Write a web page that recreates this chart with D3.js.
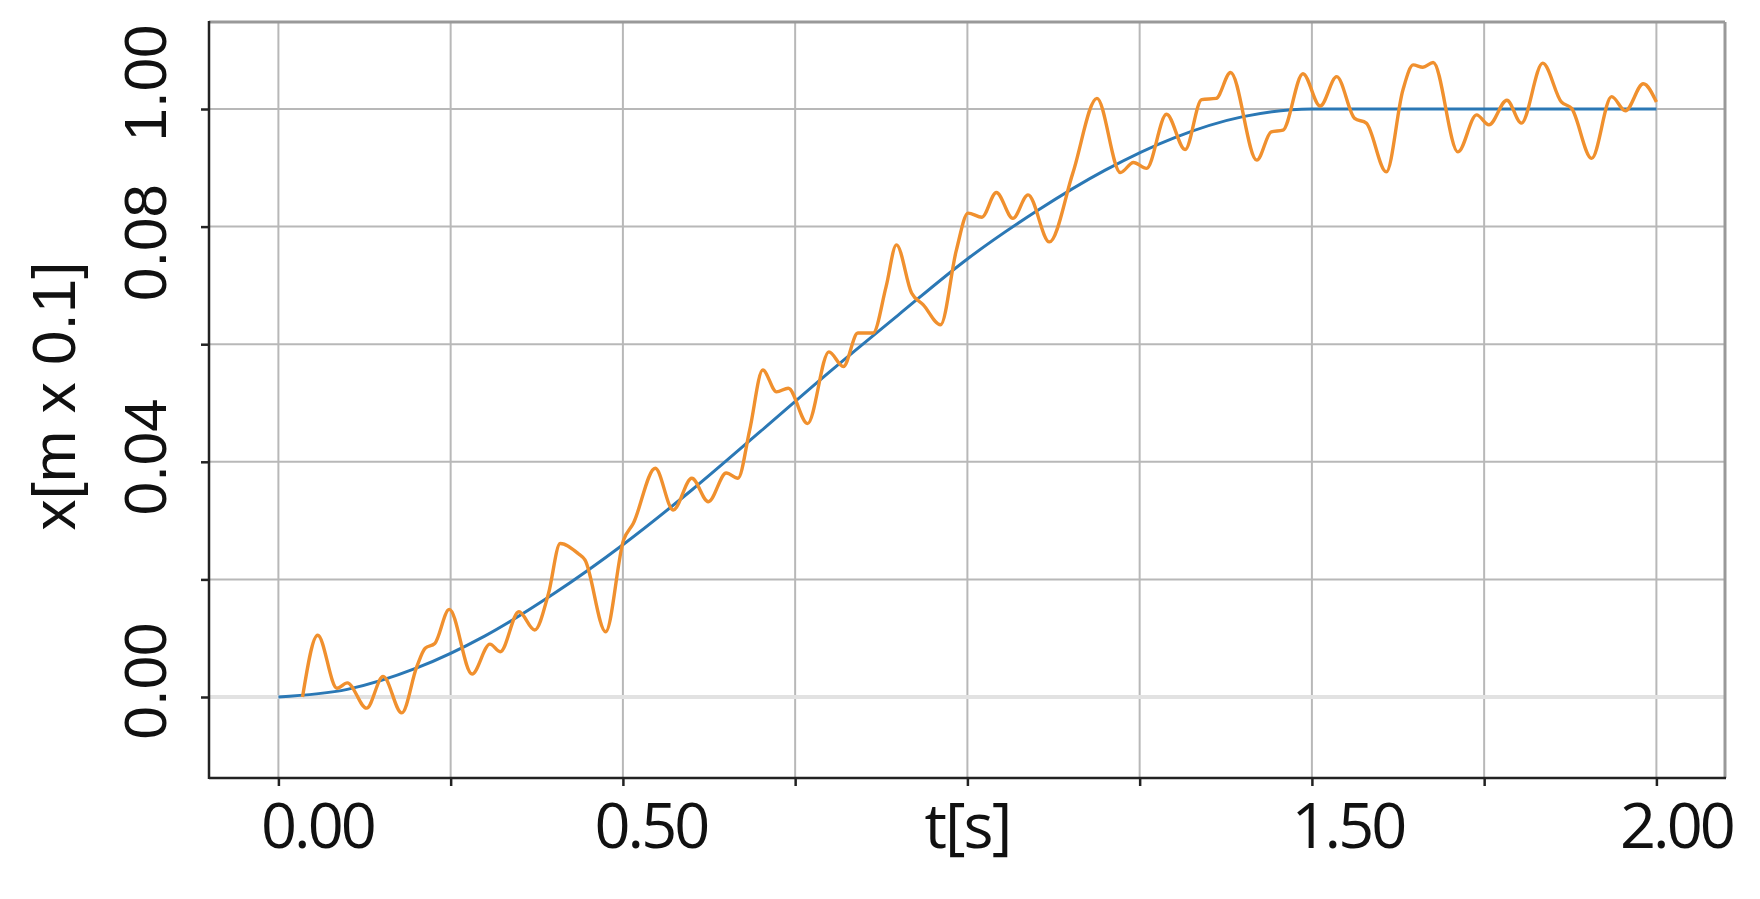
<!DOCTYPE html>
<meta charset="utf-8">
<script src="https://d3js.org/d3.v7.min.js"></script>
<style>
  body { margin: 0; background: #fff; }
</style>
<div id="chart"></div>
<script>
// time axis (s)
var tGrid = [0, 0.25, 0.5, 0.75, 1, 1.25, 1.5, 1.75, 2];
var tLabelValues = [0, 0.5, 1.5, 2];
var tLabels = ["0.00", "0.50", "1.50", "2.00"];
var tTitle = "t[s]";

// position axis (m x 0.1)
var xGrid = [0, 0.02, 0.04, 0.06, 0.08, 0.1];
var xLabelValues = [0, 0.04, 0.08, 0.1];
var xLabels = ["0.00", "0.04", "0.08", "1.00"];
var xTitle = "x[m x 0.1]";

// reference trajectory (blue)
var refT = [0, 0.1, 0.2, 0.3, 0.4, 0.5, 0.6, 0.7, 0.8, 0.9, 1.0, 1.1, 1.2, 1.3, 1.4, 1.5, 1.75, 2.0];
var refX = [0, 0.0013, 0.0049, 0.0104, 0.0176, 0.0259, 0.0352, 0.0452, 0.0553, 0.0650, 0.0745, 0.0826, 0.0896, 0.0951, 0.0987, 0.1, 0.1, 0.1];

// measured trajectory (orange)
var measT = [0.035, 0.057, 0.085, 0.100, 0.128, 0.152, 0.179, 0.201, 0.213, 0.227, 0.248,
  0.281, 0.307, 0.322, 0.349, 0.372, 0.392, 0.409, 0.435, 0.445, 0.475, 0.501, 0.515,
  0.547, 0.573, 0.600, 0.624, 0.650, 0.667, 0.684, 0.703, 0.723, 0.740, 0.768, 0.799,
  0.820, 0.841, 0.863, 0.882, 0.897, 0.919, 0.936, 0.961, 0.984, 1.001, 1.021, 1.042,
  1.066, 1.088, 1.119, 1.153, 1.188, 1.222, 1.241, 1.260, 1.289, 1.316, 1.340, 1.361,
  1.382, 1.420, 1.441, 1.458, 1.487, 1.512, 1.536, 1.562, 1.579, 1.608, 1.632, 1.647,
  1.661, 1.676, 1.712, 1.739, 1.757, 1.783, 1.804, 1.835, 1.862, 1.877, 1.906, 1.935,
  1.955, 1.981, 2.000];
var measX = [0.0000, 0.0105, 0.0015, 0.0024, -0.0019, 0.0035, -0.0027, 0.0052, 0.0083, 0.0091, 0.0149,
  0.0039, 0.0090, 0.0077, 0.0145, 0.0114, 0.0176, 0.0261, 0.0244, 0.0233, 0.0111, 0.0267, 0.0295,
  0.0389, 0.0318, 0.0372, 0.0332, 0.0381, 0.0372, 0.0454, 0.0556, 0.0519, 0.0525, 0.0465, 0.0587,
  0.0562, 0.0619, 0.0619, 0.0698, 0.0769, 0.0687, 0.0667, 0.0633, 0.0760, 0.0823, 0.0816, 0.0858,
  0.0814, 0.0854, 0.0774, 0.0891, 0.1018, 0.0892, 0.0909, 0.0899, 0.0991, 0.0931, 0.1016, 0.1018,
  0.1062, 0.0913, 0.0961, 0.0964, 0.1060, 0.1005, 0.1055, 0.0984, 0.0976, 0.0893, 0.1032, 0.1075,
  0.1071, 0.1079, 0.0927, 0.0990, 0.0973, 0.1015, 0.0976, 0.1078, 0.1012, 0.1001, 0.0916, 0.1021,
  0.0997, 0.1043, 0.1012];

var width = 1760, height = 899;
var frame = {left: 209, right: 1725, top: 22, bottom: 778};

var svg = d3.select("#chart").append("svg")
  .attr("width", width)
  .attr("height", height);

var x = d3.scaleLinear().domain([0, 2]).range([278.4, 1656.4]);
var y = d3.scaleLinear().domain([0, 0.1]).range([697, 109]);

// vertical grid
svg.append("g").selectAll("line")
  .data(tGrid).enter().append("line")
  .attr("x1", d => x(d)).attr("x2", d => x(d))
  .attr("y1", frame.top).attr("y2", frame.bottom)
  .attr("stroke", "#b8b8b8").attr("stroke-width", 2);

// horizontal grid, zero line is lighter and wider
svg.append("g").selectAll("line")
  .data(xGrid).enter().append("line")
  .attr("x1", frame.left).attr("x2", frame.right)
  .attr("y1", d => y(d)).attr("y2", d => y(d))
  .attr("stroke", d => d === 0 ? "#e2e2e2" : "#b8b8b8")
  .attr("stroke-width", d => d === 0 ? 4 : 2);

// frame: top and right gray, left and bottom dark
svg.append("line").attr("x1", frame.left).attr("x2", frame.right)
  .attr("y1", frame.top).attr("y2", frame.top)
  .attr("stroke", "#999").attr("stroke-width", 3);
svg.append("line").attr("x1", frame.right).attr("x2", frame.right)
  .attr("y1", frame.top).attr("y2", frame.bottom)
  .attr("stroke", "#999").attr("stroke-width", 3);

// axes give the small ticks
var yAxis = svg.append("g")
  .attr("transform", "translate(" + frame.left + ",0)")
  .call(d3.axisLeft(y).tickValues(xGrid).tickSize(8).tickSizeOuter(0).tickFormat(""));
var xAxis = svg.append("g")
  .attr("transform", "translate(0," + frame.bottom + ")")
  .call(d3.axisBottom(x).tickValues(tGrid).tickSize(8).tickSizeOuter(0).tickFormat(""));
[yAxis, xAxis].forEach(function(a) {
  a.select(".domain").remove();
  a.selectAll(".tick line").attr("stroke", "#222").attr("stroke-width", 2.5);
});
svg.append("line").attr("x1", frame.left).attr("x2", frame.left)
  .attr("y1", frame.top - 1).attr("y2", frame.bottom + 1)
  .attr("stroke", "#222").attr("stroke-width", 2.5);
svg.append("line").attr("x1", frame.left).attr("x2", frame.right + 1)
  .attr("y1", frame.bottom).attr("y2", frame.bottom)
  .attr("stroke", "#222").attr("stroke-width", 2.5);

// curves
var ref = refT.map((t, i) => [t, refX[i]]);
var meas = measT.map((t, i) => [t, measX[i]]);
var line = d3.line().x(d => x(d[0])).y(d => y(d[1])).curve(d3.curveMonotoneX);

svg.append("path").datum(ref)
  .attr("d", line).attr("fill", "none")
  .attr("stroke", "#2b78b5").attr("stroke-width", 3);
svg.append("path").datum(meas)
  .attr("d", line).attr("fill", "none")
  .attr("stroke", "#f0902e").attr("stroke-width", 3.4)
  .attr("stroke-linejoin", "round");

// labels sit a little off their ticks in the original, as hand placed
function tNudge(d) { return d === 0 ? 39 : d === 0.5 ? 28 : d === 1.5 ? 36 : 20; }
function xNudge(d) { return d === 0.1 ? -26 : d === 0.08 ? 16 : d === 0.04 ? -5 : -16; }

// x tick labels
svg.append("g").selectAll("text")
  .data(tLabelValues).enter().append("text")
  .attr("x", d => x(d) + tNudge(d))
  .attr("y", 848)
  .attr("text-anchor", "middle")
  .style("font-family", "'Open Sans', sans-serif")
  .style("font-size", "63px")
  .style("letter-spacing", "-3px")
  .attr("fill", "#111")
  .text((d, i) => tLabels[i]);

svg.append("text")
  .attr("x", x(1)).attr("y", 848)
  .attr("text-anchor", "middle")
  .style("font-family", "'Open Sans', sans-serif")
  .style("font-size", "63px")
  .style("letter-spacing", "-2px")
  .attr("fill", "#111")
  .text(tTitle);

// y tick labels, rotated
svg.append("g").selectAll("text")
  .data(xLabelValues).enter().append("text")
  .attr("transform", d => "translate(166," + (y(d) + xNudge(d)) + ") rotate(-90)")
  .attr("text-anchor", "middle")
  .style("font-family", "'Liberation Sans', Arial, sans-serif")
  .style("font-size", "60px")
  .attr("fill", "#111")
  .text((d, i) => xLabels[i]);

svg.append("text")
  .attr("transform", "translate(75," + ((frame.top + frame.bottom) / 2 - 4) + ") rotate(-90)")
  .attr("text-anchor", "middle")
  .style("font-family", "'Liberation Sans', Arial, sans-serif")
  .style("font-size", "62px")
  .attr("fill", "#111")
  .text(xTitle);
</script>
